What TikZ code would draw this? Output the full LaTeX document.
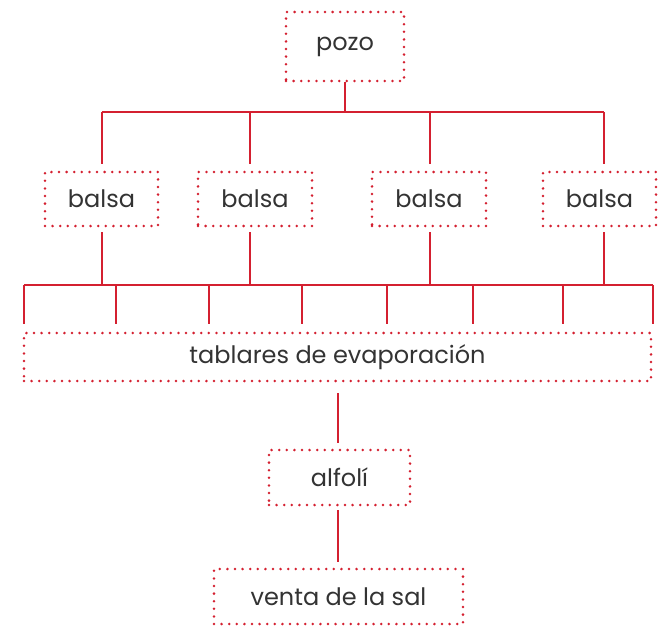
\documentclass[tikz,border=0pt]{standalone}
\usepackage{fontspec}
\setmainfont{Poppins}
\definecolor{lred}{HTML}{D42030}
\definecolor{txt}{HTML}{333333}
\tikzset{
  box/.style={draw=lred, line width=2.8pt, dash pattern=on 0pt off 7.6pt, line cap=round,
    inner sep=0pt, text=txt, font=\fontsize{24}{28}\selectfont},
  conn/.style={draw=lred, line width=2pt},
}
\begin{document}
\begin{tikzpicture}[x=1pt,y=-1pt]
\useasboundingbox (0,0) rectangle (659,626);
% nodes
\node[box, minimum width=118pt, minimum height=69pt] (pozo) at (345,46.5) {pozo};
\node[box, minimum width=113pt, minimum height=54pt] (b1) at (101.5,199) {balsa};
\node[box, minimum width=114pt, minimum height=54pt] (b2) at (255,199) {balsa};
\node[box, minimum width=114pt, minimum height=54pt] (b3) at (429,199) {balsa};
\node[box, minimum width=113pt, minimum height=54pt] (b4) at (599.5,199) {balsa};
\node[box, minimum width=627pt, minimum height=48pt] (tab) at (337.5,357) {tablares de evaporación};
\node[box, minimum width=141pt, minimum height=55pt] (alf) at (339.5,477.5) {alfolí};
\node[box, minimum width=249pt, minimum height=55pt] (venta) at (338.5,596.5) {venta de la sal};
% coordinates
\coordinate (h1) at (102,112);
\coordinate (h2) at (250,112);
\coordinate (h3) at (430,112);
\coordinate (h4) at (604,112);
\coordinate (hp) at (345,112);
\foreach \i/\x in {1/24,2/116,3/209,4/302,5/387,6/473,7/563,8/653}{
  \coordinate (k\i) at (\x,285);
}
\coordinate (g1) at (102,285);
\coordinate (g2) at (250,285);
\coordinate (g3) at (430,285);
\coordinate (g4) at (604,285);
% connectors
\draw[conn] (pozo.south) -- (hp);
\draw[conn] (h1) -- (h4);
\foreach \i in {1,2,3,4}{
  \draw[conn, shorten >=7pt] (h\i) -- (h\i |- b\i.north);
  \draw[conn, shorten <=5pt] (g\i |- b\i.south) -- (g\i);
}
\draw[conn] (k1) -- (k8);
\foreach \i in {1,...,8}{
  \draw[conn, shorten >=8pt] (k\i) -- (k\i |- tab.north);
}
\coordinate (ta) at (338,357);
\draw[conn, shorten <=11pt, shorten >=6pt] (ta |- tab.south) -- (ta |- alf.north);
\draw[conn, shorten <=4pt, shorten >=6pt] (ta |- alf.south) -- (ta |- venta.north);
\end{tikzpicture}
\end{document}
